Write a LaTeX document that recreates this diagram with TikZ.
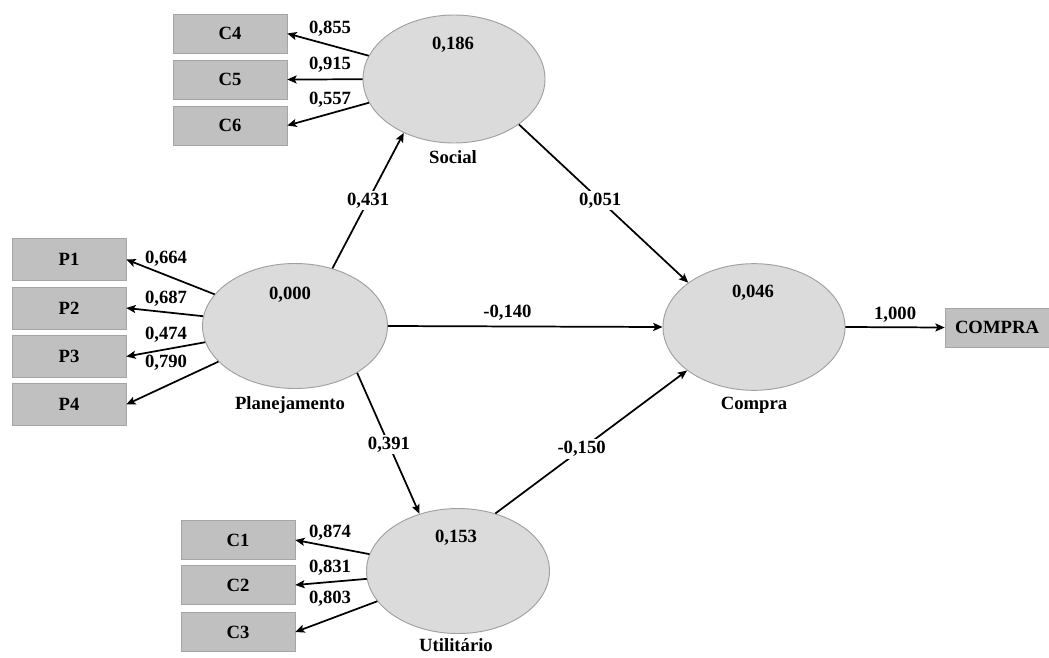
\documentclass[tikz,border=0pt]{standalone}
\usepackage{fontspec}
\setmainfont{Liberation Serif}
\usetikzlibrary{arrows.meta,shapes.geometric}
\definecolor{boxfill}{RGB}{192,192,192}
\definecolor{boxline}{RGB}{165,165,165}
\definecolor{ellfill}{RGB}{219,219,219}
\definecolor{ellline}{RGB}{160,160,160}
\begin{document}
\begin{tikzpicture}[x=0.75pt,y=-0.75pt,
  txt/.style={font=\fontsize{14}{16}\selectfont\bfseries,inner sep=1pt},
  ind/.style={txt,draw=boxline,fill=boxfill,minimum width=85.5pt,minimum height=29.25pt,inner sep=0pt},
  lat/.style={ellipse,draw=ellline,fill=ellfill,inner sep=0pt,line width=0.7pt},
  arr/.style={-{Stealth[length=7pt,width=6pt,inset=1.5pt]},line width=1.3pt,black},
  onl/.style={txt,fill=white,inner sep=1.5pt}]
\useasboundingbox (0,0) rectangle (1049,657);

% indicator boxes
\node[ind] (c4) at (230,33.5) {C4};
\node[ind] (c5) at (230,79.5) {C5};
\node[ind] (c6) at (230,125.5) {C6};
\node[ind,minimum height=31.5pt] (p1) at (69,259.5) {P1};
\node[ind,minimum height=31.5pt] (p2) at (69,308) {P2};
\node[ind,minimum height=31.5pt] (p3) at (69,356.5) {P3};
\node[ind,minimum height=31.5pt] (p4) at (69,404.5) {P4};
\node[ind] (c1) at (238,540) {C1};
\node[ind] (c2) at (238,585) {C2};
\node[ind] (c3) at (238,632) {C3};
\node[ind,minimum width=78pt] (cbox) at (997,327.5) {COMPRA};

% latent variables
\node[lat,minimum width=136.5pt,minimum height=96pt] (soc) at (454,79) {};
\node[lat,minimum width=138.75pt,minimum height=93.75pt] (plan) at (295,326) {};
\node[lat,minimum width=136.5pt,minimum height=95pt] (comp) at (754,327) {};
\node[lat,minimum width=137.25pt,minimum height=93.75pt] (util) at (458,571) {};

\node[txt] (vsoc) at (453,45) {0,186};
\node[txt] (vplan) at (290,295) {0,000};
\node[txt] (vcomp) at (753,293) {0,046};
\node[txt] (vutil) at (456,538) {0,153};

\node[txt] (nsoc) at (453,157) {Social};
\node[txt] (nplan) at (290,405) {Planejamento};
\node[txt] (ncomp) at (754,405) {Compra};
\node[txt] (nutil) at (456,645) {Utilitário};

% outer loadings
\draw[arr] (soc) -- (c4.east);
\draw[arr] (soc) -- (c5.east);
\draw[arr] (soc) -- (c6.east);
\node[txt] (l855) at (330,29) {0,855};
\node[txt] (l915) at (330,65) {0,915};
\node[txt] (l557) at (330,100) {0,557};

\draw[arr] (plan) -- (p1.east);
\draw[arr] (plan) -- (p2.east);
\draw[arr] (plan) -- (p3.east);
\draw[arr] (plan) -- (p4.east);
\node[txt] (l664) at (166,259) {0,664};
\node[txt] (l687) at (166,299) {0,687};
\node[txt] (l474) at (166,335) {0,474};
\node[txt] (l790) at (166,363) {0,790};

\draw[arr] (util) -- (c1.east);
\draw[arr] (util) -- (c2.east);
\draw[arr] (util) -- (c3.east);
\node[txt] (l874) at (330,533) {0,874};
\node[txt] (l831) at (330,568) {0,831};
\node[txt] (l803) at (330,599) {0,803};

\draw[arr] (comp.east) -- (cbox.west) node[txt,midway,above=2pt] (l1000) {1,000};

% structural paths
\draw[arr] (plan.57) -- (soc.227) node[onl,pos=0.5] (l431) {0,431};
\draw[arr] (soc.325) -- (comp.146) node[onl,pos=0.48] (l051) {0,051};
\draw[arr] (plan.east) -- (comp.west) node[txt,pos=0.435,above=3pt] (l140) {-0,140};
\draw[arr] (plan.323) -- (util.124) node[onl,pos=0.51] (l391) {0,391};
\draw[arr] (util.57) -- (comp.213) node[onl,pos=0.45] (l150) {-0,150};
\end{tikzpicture}
\end{document}
